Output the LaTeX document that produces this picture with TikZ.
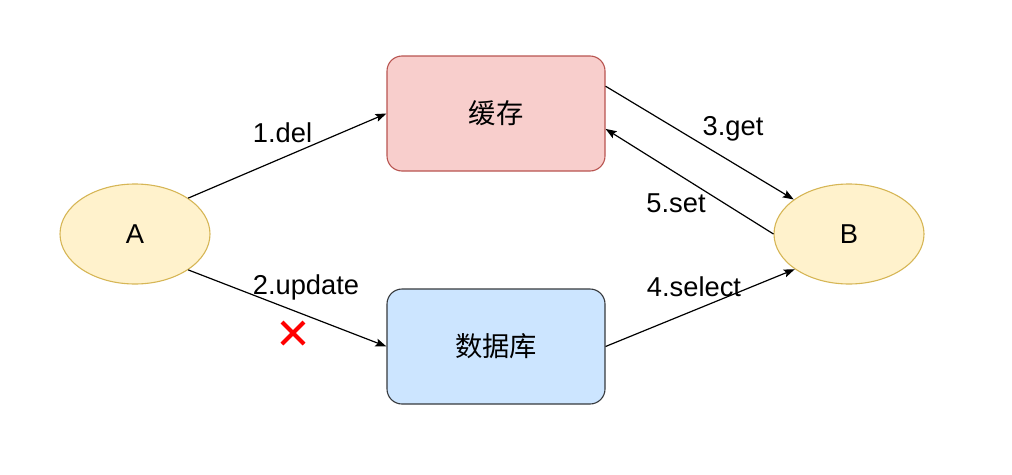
\documentclass[tikz,border=0pt]{standalone}
\usepackage{fontspec}
\setmainfont{Liberation Sans}
\newfontfamily\cjk{Noto Sans CJK SC}
\usetikzlibrary{arrows.meta,shapes.geometric}
\definecolor{redfill}{HTML}{F8CECC}
\definecolor{redline}{HTML}{B85450}
\definecolor{bluefill}{HTML}{CCE5FF}
\definecolor{blueline}{HTML}{36393D}
\definecolor{yelfill}{HTML}{FFF2CC}
\definecolor{yelline}{HTML}{D6B656}
\tikzset{
  every node/.style={font=\fontsize{27.3}{32}\selectfont},
  box/.style={rectangle, rounded corners=15pt, minimum width=218pt, minimum height=115pt, line width=1.1pt, inner sep=0pt},
  oval/.style={ellipse, minimum width=150pt, minimum height=100pt, inner sep=0pt, draw=yelline, fill=yelfill, line width=1.1pt},
  conn/.style={line width=1.2pt, -{Stealth[length=11pt,width=8pt,inset=2pt]}},
  lbl/.style={inner sep=0pt}
}
\begin{document}
\begin{tikzpicture}[x=1pt,y=-1pt]
\useasboundingbox (0,0) rectangle (1012,474);
\node[oval] (A) at (135,234) {A};
\node[oval] (B) at (849,234) {B};
\node[box, draw=redline, fill=redfill] (cache) at (496,113.5) {\cjk 缓存};
\node[box, draw=blueline, fill=bluefill] (db) at (496,346.5) {\cjk 数据库};
\draw[conn] (A.34) -- (cache.west);
\draw[conn] (A.-34) -- (db.west);
\draw[conn] (cache.14.7) -- (B.148);
\draw[conn] (B.west) -- (cache.-8.1);
\draw[conn] (db.east) -- (B.-147);
\node[lbl] (l1) at (282.5,133) {1.del};
\node[lbl] (l2) at (306,287) {2.update};
\node[lbl] (l3) at (733,129) {3.get};
\node[lbl] (l5) at (676,203) {5.set};
\node[lbl] (l4) at (694,287) {4.select};
\draw[red, line width=4pt] (282,322) -- (304,344);
\draw[red, line width=4pt] (304,322) -- (282,344);
\end{tikzpicture}
\end{document}
